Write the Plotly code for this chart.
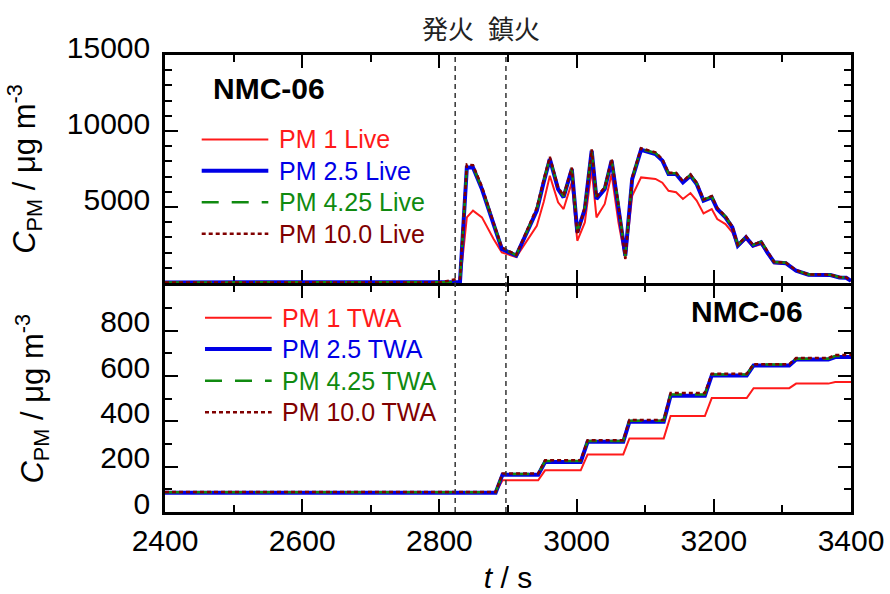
import plotly.graph_objects as go
from plotly.subplots import make_subplots

# ---------------- data ----------------
# Real-time particulate concentration (µg m^-3) vs elapsed time (s)
t_live = [2400, 2500, 2600, 2700, 2800, 2830, 2840, 2849, 2862, 2879, 2891, 2912,
          2942, 2952, 2961, 2973, 2981, 2993, 3001, 3012, 3022, 3029, 3041, 3051,
          3061, 3071, 3081, 3094, 3115, 3125, 3134, 3145, 3155, 3166, 3175, 3185,
          3197, 3205, 3217, 3227, 3235, 3247, 3257, 3269, 3278, 3288, 3305, 3320,
          3338, 3370, 3383, 3393, 3400]

pm1_live = [30, 30, 30, 30, 30, 40, 4320, 4760, 4320, 2900, 2020, 1710,
            3770, 5330, 7060, 5310, 4870, 6620, 2780, 3990, 7500, 4320, 5200, 7170,
            3990, 1580, 5740, 6950, 6850, 6600, 6070, 5970, 5530, 5920, 5420, 4580,
            4870, 4210, 3880, 3340, 2400, 2900, 2400, 2550, 1950, 1300, 1260, 780,
            520, 500, 350, 330, 130]

pm25_live = [40, 40, 40, 40, 40, 60, 7600, 7600, 6180, 3770, 2240, 1800,
             4760, 6620, 8160, 6180, 5640, 7500, 3340, 4870, 8700, 5530, 6180, 8050,
             5090, 1800, 6840, 8770, 8490, 8050, 7170, 7170, 6620, 7060, 6510, 5420,
             5640, 4870, 4320, 3660, 2460, 3010, 2460, 2680, 2020, 1360, 1310, 810,
             550, 530, 370, 350, 150]

pm425_live = [40, 40, 40, 40, 40, 60, 7650, 7650, 6250, 3850, 2300, 1830,
              4850, 6700, 8250, 6250, 5700, 7550, 3400, 4950, 8750, 5600, 6250, 8100,
              5150, 1750, 6900, 8820, 8550, 8100, 7220, 7220, 6680, 7120, 6570, 5470,
              5700, 4920, 4370, 3700, 2500, 3050, 2500, 2720, 2050, 1380, 1330, 830,
              560, 540, 380, 360, 150]

pm10_live = [40, 40, 40, 40, 40, 300, 7800, 7750, 6350, 3950, 2350, 1850,
             4950, 6800, 8300, 6300, 5750, 7600, 3200, 5000, 8800, 5650, 6300, 8150,
             5100, 1600, 6950, 8870, 8600, 8150, 7250, 7250, 6700, 7150, 6600, 5500,
             5720, 4950, 4400, 3720, 2520, 3070, 2520, 2740, 2060, 1390, 1340, 840,
             570, 550, 390, 370, 160]

# Time-weighted averages (µg m^-3)
t_twa = [2400, 2882, 2892, 2944, 2954, 3006, 3016, 3068, 3077, 3127, 3137,
         3187, 3197, 3248, 3258, 3310, 3320, 3367, 3377, 3400]
pm1_twa = [85, 85, 140, 140, 184, 184, 254, 254, 325, 325, 424,
           424, 503, 503, 547, 547, 567, 567, 574, 574]
pm25_twa = [85, 85, 165, 165, 221, 221, 310, 310, 399, 399, 513,
            513, 603, 603, 647, 647, 673, 673, 684, 684]
pm425_twa = [87, 87, 168, 168, 225, 225, 314, 314, 403, 403, 519,
             519, 607, 607, 651, 651, 677, 677, 689, 689]
pm10_twa = [88, 88, 170, 170, 228, 228, 317, 317, 406, 406, 525,
            525, 610, 610, 653, 653, 680, 680, 693, 693]

# Event times (s)
t_ignition = 2823
t_extinguish = 2897

live_names = ["PM 1 Live", "PM 2.5 Live", "PM 4.25 Live", "PM 10.0 Live"]
twa_names = ["PM 1 TWA", "PM 2.5 TWA", "PM 4.25 TWA", "PM 10.0 TWA"]
site_label = "NMC-06"
event_labels = ["発火", "鎮火"]

x_ticks = [2400, 2600, 2800, 3000, 3200, 3400]
y1_ticks = [5000, 10000, 15000]
y2_ticks = [0, 200, 400, 600, 800]

# ---------------- styles ----------------
FONT = "Liberation Sans, Arial, sans-serif"
styles = [
    dict(color="#ff1a1a", width=2, dash="solid"),
    dict(color="#0000e6", width=4, dash="solid"),
    dict(color="#108a10", width=2.5, dash="17px,13px"),
    dict(color="#800000", width=2.5, dash="4px,3px"),
]
text_colors = ["#ff1a1a", "#0000e6", "#108a10", "#800000"]

fig = make_subplots(rows=2, cols=1, shared_xaxes=True, vertical_spacing=0)

for y, name, st in zip([pm1_live, pm25_live, pm425_live, pm10_live], live_names, styles):
    fig.add_trace(go.Scatter(x=t_live, y=y, mode="lines", name=name, line=st,
                             showlegend=False), row=1, col=1)

for y, name, st in zip([pm1_twa, pm25_twa, pm425_twa, pm10_twa], twa_names, styles):
    fig.add_trace(go.Scatter(x=t_twa, y=y, mode="lines", name=name, line=st,
                             showlegend=False), row=2, col=1)

axis_common = dict(
    showline=True, linecolor="black", linewidth=2.5, mirror="allticks",
    ticks="inside", ticklen=13, tickwidth=2, tickcolor="black",
    showgrid=False, zeroline=False, layer="below traces", automargin=False,
    tickfont=dict(size=30, family=FONT, color="black"),
)
minor_common = dict(ticks="inside", ticklen=7, tickwidth=2, tickcolor="black", showgrid=False)

fig.update_xaxes(range=[2400, 3400], tickmode="array", tickvals=x_ticks,
                 minor=dict(tickmode="array", tickvals=list(range(2500, 3400, 200)), **minor_common),
                 **axis_common)
fig.update_xaxes(showticklabels=False, row=1, col=1)
fig.update_xaxes(showticklabels=True, ticklabelstandoff=0,
                 title=dict(text="<i>t</i> / s", font=dict(size=30, family=FONT, color="black"),
                            standoff=16),
                 row=2, col=1)

ytitle = "<i>C</i><sub>PM</sub> / μg m<sup>-3</sup>"
fig.update_yaxes(range=[0, 15000], tickmode="array", tickvals=y1_ticks, tickformat="d",
                 minor=dict(tickmode="array",
                            tickvals=[v for v in range(1000, 15000, 1000) if v % 5000],
                            **minor_common),
                 ticklabelstandoff=6, ticklabelshift=-8,
                 title=dict(text=ytitle, font=dict(size=31, family=FONT, color="black"), standoff=22),
                 row=1, col=1, **axis_common)
fig.update_yaxes(range=[0, 1000], tickmode="array", tickvals=y2_ticks, tickformat="d",
                 minor=dict(tickmode="array", tickvals=list(range(100, 1000, 200)), **minor_common),
                 ticklabelstandoff=6, ticklabelshift=-9,
                 title=dict(text=ytitle, font=dict(size=31, family=FONT, color="black"), standoff=48),
                 row=2, col=1, **axis_common)

# panel split (shared border); leave a line-width gap so both frame lines coincide
split = (512 - 284.3) / 457
half_line = 1.25 / 457
fig.update_layout(
    yaxis=dict(domain=[split + half_line, 1]),
    yaxis2=dict(domain=[0, split - half_line]),
)

# event markers spanning both panels, each labelled above the frame
for te, lab, dx in zip((t_ignition, t_extinguish), event_labels, (-11, 12)):
    fig.add_shape(type="line", xref="x", yref="paper", x0=te, x1=te, y0=0, y1=1,
                  line=dict(color="#333333", width=1.5, dash="5px,4px"), layer="above")
    fig.add_annotation(xref="x", yref="paper", x=te + dx, y=1.06,
                       text=lab, showarrow=False, xanchor="center", yanchor="middle",
                       font=dict(size=26, family="Noto Sans CJK JP", color="#222222"))

# panel labels
fig.add_annotation(xref="x domain", yref="y domain", x=0.151, y=0.852, text="<b>%s</b>" % site_label,
                   showarrow=False, xanchor="center", yanchor="middle",
                   font=dict(size=30, family=FONT, color="black"))
fig.add_annotation(xref="x2 domain", yref="y2 domain", x=0.848, y=0.884, text="<b>%s</b>" % site_label,
                   showarrow=False, xanchor="center", yanchor="middle",
                   font=dict(size=30, family=FONT, color="black"))

# legend boxes drawn inside each panel
def draw_legend(xref, yref, names, rows, x0, x1, xt):
    for name, st, col, yy in zip(names, styles, text_colors, rows):
        fig.add_shape(type="line", xref=xref, yref=yref, x0=x0, x1=x1, y0=yy, y1=yy,
                      line=st, layer="above")
        fig.add_annotation(xref=xref, yref=yref, x=xt, y=yy, text=name, showarrow=False,
                           xanchor="left", yanchor="middle",
                           font=dict(size=25, family=FONT, color=col))

draw_legend("x domain", "y domain", live_names, [0.630, 0.492, 0.354, 0.216], 0.0535, 0.1506, 0.163)
draw_legend("x2 domain", "y2 domain", twa_names, [0.858, 0.720, 0.580, 0.441], 0.0583, 0.1555, 0.168)

fig.update_layout(
    width=890, height=594,
    margin=dict(l=165, r=39, t=55, b=82, autoexpand=False),
    plot_bgcolor="white", paper_bgcolor="white",
    showlegend=False,
    font=dict(family=FONT, color="black"),
)

fig.write_html("out.html")
